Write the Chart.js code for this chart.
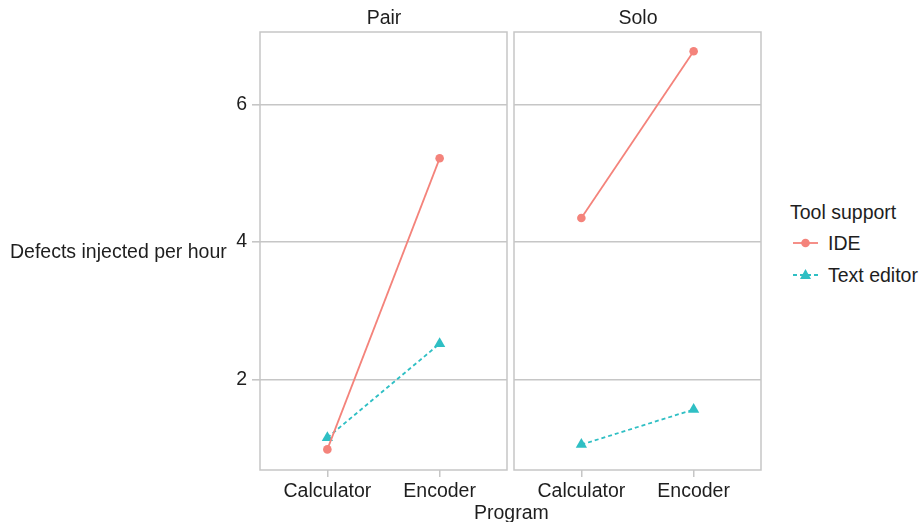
<!DOCTYPE html>
<html>
<head>
<meta charset="utf-8">
<script src="https://cdn.jsdelivr.net/npm/chart.js@4"></script>
<style>
  body { margin: 0; background: #fff; font-family: "Liberation Sans", Arial, sans-serif; color: #1e1e1e; }
  #wrap { position: relative; width: 923px; height: 522px; }
  canvas { position: absolute; top: 0; }
  .txt { position: absolute; font-size: 19.5px; white-space: nowrap; line-height: 1; }
  .strip { transform: translateX(-50%); top: 8px; }
</style>
</head>
<body>
<div id="wrap">
  <canvas id="pair" width="510" height="522" style="left:0;width:510px;height:522px"></canvas>
  <canvas id="solo" width="253" height="522" style="left:511px;width:253px;height:522px"></canvas>
  <div class="txt strip" style="left:384px">Pair</div>
  <div class="txt strip" style="left:638px">Solo</div>
  <div class="txt" style="left:10px;top:242px">Defects injected per hour</div>
  <div class="txt" style="left:474px;top:503px">Program</div>
  <div class="txt" style="left:790px;top:203px">Tool support</div>
  <canvas id="leg" width="40" height="80" style="left:788px;top:224px;width:40px;height:80px"></canvas>
  <div class="txt" style="left:828px;top:234px">IDE</div>
  <div class="txt" style="left:828px;top:266px">Text editor</div>
</div>
<script>
// data
var programs = ['Calculator', 'Encoder'];
var pairIDE = [0.98, 5.22];
var pairText = [1.15, 2.52];
var soloIDE = [4.35, 6.78];
var soloText = [1.05, 1.56];
var yTicks = [2, 4, 6];

var red = '#F4837B', teal = '#2FBFC4', grey = '#c6c6c6';

var frame = {
  id: 'frame',
  afterDraw: function(chart) {
    var a = chart.chartArea, c = chart.ctx;
    c.save();
    c.strokeStyle = grey;
    c.lineWidth = 1.5;
    c.strokeRect(a.left, a.top, a.right - a.left, a.bottom - a.top);
    c.restore();
  }
};

function pts(vals) {
  return vals.map(function(v, i) { return { x: i, y: v }; });
}

function panel(id, ide, text, showY) {
  return new Chart(document.getElementById(id), {
    type: 'line',
    data: {
      datasets: [
        { label: 'IDE', data: pts(ide), borderColor: red, backgroundColor: red,
          borderWidth: 1.8, pointStyle: 'circle', pointRadius: 4.3, pointBorderWidth: 0 },
        { label: 'Text editor', data: pts(text), borderColor: teal, backgroundColor: teal,
          borderWidth: 1.8, borderDash: [4, 3], pointStyle: 'triangle', pointRadius: 6.5, pointBorderWidth: 0 }
      ]
    },
    options: {
      responsive: false,
      animation: false,
      layout: { autoPadding: false, padding: { top: 32, right: 3, left: showY ? 0 : 3, bottom: 0 } },
      plugins: { legend: { display: false }, tooltip: { enabled: false } },
      scales: {
        x: {
          type: 'linear', min: -0.6, max: 1.6,
          afterBuildTicks: function(s) { s.ticks = programs.map(function(p, i) { return { value: i }; }); },
          afterFit: function(s) { s.height = 52; s.paddingLeft = 0; s.paddingRight = 0; },
          ticks: { callback: function(v) { return programs[v]; }, color: '#1e1e1e', padding: 3,
                   font: { family: 'Liberation Sans', size: 19.5 } },
          grid: { drawOnChartArea: false, drawTicks: true, tickLength: 7, color: grey, lineWidth: 1.5 },
          border: { display: false }
        },
        y: {
          min: 0.68, max: 7.06,
          afterBuildTicks: function(s) { s.ticks = yTicks.map(function(v) { return { value: v }; }); },
          afterFit: function(s) { s.width = showY ? 260 : 0; s.paddingTop = 0; s.paddingBottom = 0; },
          ticks: { display: showY, color: '#1e1e1e', padding: 5,
                   font: { family: 'Liberation Sans', size: 19.5 } },
          grid: { color: grey, lineWidth: 1.6, drawTicks: showY, tickLength: 8 },
          border: { display: false }
        }
      }
    },
    plugins: [frame]
  });
}

panel('pair', pairIDE, pairText, true);
panel('solo', soloIDE, soloText, false);

// legend keys
var lc = document.getElementById('leg').getContext('2d');
lc.lineWidth = 1.8;
lc.strokeStyle = red; lc.fillStyle = red;
lc.beginPath(); lc.moveTo(5, 19); lc.lineTo(30, 19); lc.stroke();
lc.beginPath(); lc.arc(17.5, 19, 4.3, 0, Math.PI * 2); lc.fill();
lc.strokeStyle = teal; lc.fillStyle = teal;
lc.setLineDash([4, 3]);
lc.beginPath(); lc.moveTo(5, 51); lc.lineTo(30, 51); lc.stroke();
lc.beginPath(); lc.moveTo(17.5, 45); lc.lineTo(23, 55); lc.lineTo(12, 55); lc.closePath(); lc.fill();
</script>
</body>
</html>
